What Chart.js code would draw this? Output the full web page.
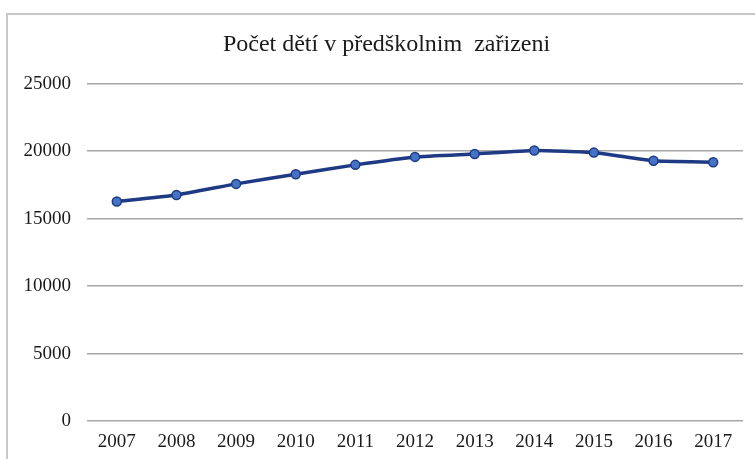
<!DOCTYPE html>
<html>
<head>
<meta charset="utf-8">
<script src="https://cdn.jsdelivr.net/npm/chart.js@4"></script>
<style>
  html, body { margin: 0; padding: 0; background: #fff; overflow: hidden; }
  .wrap { position: relative; width: 755px; height: 459px; }
  .frame { position: absolute; left: 6px; top: 13px; width: 800px; height: 500px;
           border-left: 2px solid #c8c8c8; border-top: 2px solid #c8c8c8; }
  canvas { position: absolute; left: 0; top: 0; }
</style>
</head>
<body>
<div class="wrap">
  <div class="frame"></div>
  <canvas id="myChart" width="755" height="459"></canvas>
</div>
<script>
// data
const years = ["2007", "2008", "2009", "2010", "2011", "2012", "2013", "2014", "2015", "2016", "2017"];
const children = [16270, 16760, 17580, 18300, 18990, 19580, 19800, 20050, 19900, 19290, 19190];
const yTicks = [0, 5000, 10000, 15000, 20000, 25000];
const title = "Počet dětí v předškolnim  zařizeni";

const serif = "'Liberation Serif', 'Times New Roman', serif";

// nudge the title a bit right, like in the original
const titleShift = {
    id: 'titleShift',
    afterLayout(chart) {
        if (chart.titleBlock) chart.titleBlock.left += 12;
    }
};

var ctx = document.getElementById('myChart').getContext('2d');
var myChart = new Chart(ctx, {
    type: 'line',
    data: {
        labels: years,
        datasets: [{
            data: children,
            borderColor: "#1f3a85",
            borderWidth: 3.5,
            backgroundColor: "#4472c4",
            pointBackgroundColor: "#4472c4",
            pointBorderColor: "#1f3a85",
            pointBorderWidth: 1.5,
            pointRadius: 4.5,
            tension: 0.15,
            fill: false,
        }]
    },
    options: {
        responsive: false,
        animation: false,
        layout: { padding: { left: 18, right: 12, top: 0, bottom: 0 } },
        plugins: {
            legend: { display: false },
            tooltip: { enabled: false },
            title: {
                display: true,
                text: title,
                color: "#1a1a1a",
                font: { family: serif, size: 24, weight: 'normal' },
                padding: { top: 30, bottom: 25 }
            }
        },
        scales: {
            x: {
                offset: true,
                grid: { display: false, drawTicks: false },
                border: { display: false },
                ticks: {
                    color: "#1a1a1a",
                    font: { family: serif, size: 19 },
                    padding: 10,
                    maxRotation: 0,
                    autoSkip: false
                },
                afterFit: s => { s.height = 38; }
            },
            y: {
                min: yTicks[0],
                max: yTicks[yTicks.length - 1],
                afterBuildTicks: s => { s.ticks = yTicks.map(v => ({ value: v })); },
                grid: { color: "#a6a6a6", lineWidth: 1.5, drawTicks: false },
                border: { display: false },
                ticks: {
                    color: "#1a1a1a",
                    font: { family: serif, size: 19 },
                    padding: 16,
                    callback: v => String(v)
                },
                afterFit: s => { s.width = 69; }
            }
        }
    },
    plugins: [titleShift]
});
</script>
</body>
</html>
